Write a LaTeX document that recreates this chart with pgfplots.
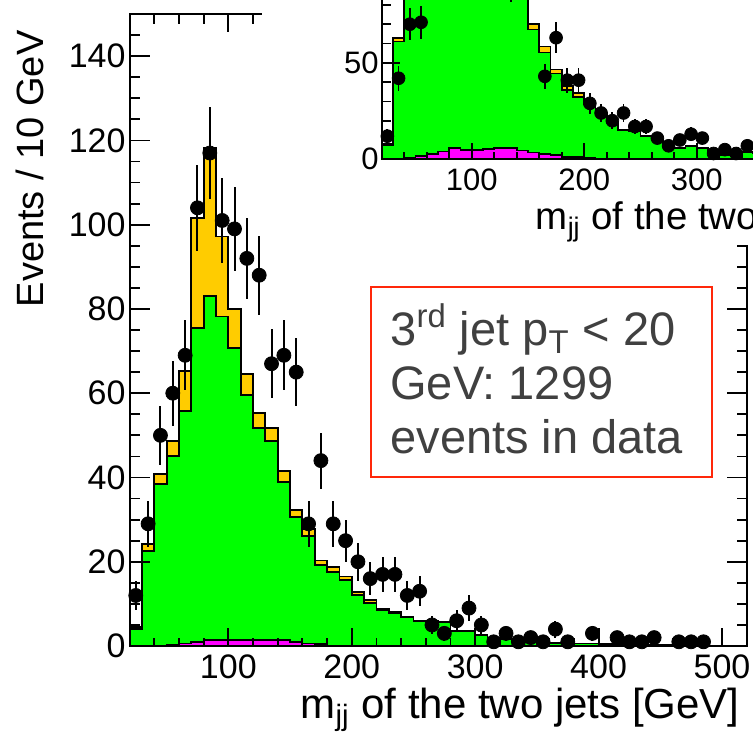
\documentclass[border=0pt]{standalone}
\usepackage{pgfplots}
\usepackage{pgfplotstable}
\usepackage{fontspec}
\setmainfont{Liberation Sans}
\pgfplotsset{compat=1.18}
\definecolor{hgreen}{RGB}{0,255,0}
\definecolor{horange}{RGB}{255,204,0}
\definecolor{hmag}{RGB}{255,0,255}
\definecolor{txtgray}{RGB}{64,64,64}
\definecolor{boxred}{RGB}{255,40,10}

\pgfplotstableread{
x T G M
20 4.5 4.0 0
30 24.2 22.6 0
40 40.8 38.5 0.1
50 48.7 45.1 0.3
60 65.2 55.7 0.6
70 101.6 75.5 1.0
80 118.2 83.1 1.5
90 97.2 78.2 1.4
100 80.0 70.7 1.4
110 64.6 59.6 1.5
120 55.3 51.7 1.5
130 51.7 48.6 1.5
140 41.6 38.9 1.5
150 32.3 30.7 1.0
160 27.7 26.1 0.6
170 20.3 19.2 0.5
180 18.8 17.6 0.1
190 16.5 15.7 0
200 12.9 12.1 0
210 10.9 10.3 0
220 8.9 8.6 0
230 8.1 7.9 0
240 7.0 6.8 0
250 6.0 5.9 0
260 6.0 5.9 0
270 5.8 5.7 0
280 3.6 3.5 0
290 3.6 3.5 0
300 2.7 2.6 0
310 2.0 2.0 0
320 1.6 1.6 0
330 1.4 1.4 0
340 1.0 1.0 0
350 0.8 0.8 0
360 0.8 0.8 0
370 0.8 0.8 0
380 0.6 0.6 0
390 0.6 0.6 0
400 0.4 0.4 0
410 0.4 0.4 0
420 0.3 0.3 0
430 0.2 0.2 0
440 0.2 0.2 0
450 0.3 0.3 0
460 0.2 0.2 0
470 0.1 0.1 0
480 0.1 0.1 0
490 0.1 0.1 0
500 0.1 0.1 0
510 0.1 0.1 0
520 0.1 0.1 0
}\mainhist

\pgfplotstableread{
x y e
25 12 3.46
35 29 5.39
45 50 7.07
55 60 7.75
65 69 8.31
75 104 10.20
85 117 10.82
95 101 10.05
105 99 9.95
115 92 9.59
125 88 9.38
135 67 8.19
145 69 8.31
155 65 8.06
165 29 5.39
175 44 6.63
185 29 5.39
195 25 5.00
205 20 4.47
215 16 4.00
225 17 4.12
235 17 4.12
245 12 3.46
255 13 3.61
265 5 2.24
275 3 1.73
285 6 2.45
295 9 3.00
305 5 2.24
315 1 1.00
325 3 1.73
335 1 1.00
345 2 1.41
355 1 1.00
365 4 2.00
375 1 1.00
395 3 1.73
415 2 1.41
425 1 1.00
435 1 1.00
445 2 1.41
465 1 1.00
475 1 1.00
485 1 1.00
}\maindata

\pgfplotstableread{
x T G M
20 7.9 7.4 0
30 63.0 61.0 0.3
40 94 88 0.8
50 112 104 1.6
60 150 128 2.9
70 234 174 4.0
80 272 191 6.0
90 224 180 4.8
100 184 163 4.8
110 149 137 5.5
120 127 119 5.7
130 119 112 5.7
140 96 90 4.6
150 70.1 67.3 3.6
160 58.4 55.4 2.9
170 46.6 44.4 2.2
180 37.9 35.9 1.3
190 34.2 32.4 1.3
200 29.0 28.5 1.0
210 24.3 24.0 0.3
220 19.5 19.3 0
230 15.2 15.0 0
240 14.8 14.6 0
250 12.1 12.0 0
260 10.0 9.9 0
270 7.1 7.0 0
280 5.7 5.6 0
290 6.9 6.8 0
300 5.7 5.6 0
310 4.5 4.4 0
320 2.2 2.2 0
330 2.2 2.2 0
340 3.9 3.8 0
350 3.0 3.0 0
360 2.5 2.5 0
370 2.5 2.5 0
}\insethist

\pgfplotstableread{
x y e
25 12 3.46
35 42 6.48
45 70 8.37
55 71 8.43
65 110 10.49
75 180 13.42
85 200 14.14
95 190 13.78
105 170 13.04
115 150 12.25
125 120 10.95
135 91 9.54
145 110 10.49
155 100 10.00
165 43 6.56
175 63 7.94
185 41 6.40
195 41 6.40
205 29 5.39
215 24 4.90
225 20 4.47
235 24 4.90
245 17 4.12
255 17 4.12
265 11 3.32
275 7 2.65
285 10 3.16
295 13 3.61
305 11 3.32
315 3 1.73
325 5 2.24
335 3 1.73
345 7 2.65
}\insetdata

\pgfplotsset{
  rootstyle/.style={
    scale only axis, anchor=south west,
    xmin=20, xmax=520, ymin=0,
    xtick={100,200,...,500},
    tick align=inside, major tick length=0pt, minor tick length=0pt,
    axis line style={black, line width=0.9pt},
    axis on top,
    /pgf/number format/assume math mode=true,
    /pgf/number format/1000 sep={},
  },
}
\tikzset{tk/.style={draw=black, line width=0.9pt}}

\begin{document}
\begin{tikzpicture}

\begin{axis}[rootstyle,
  at={(64.8pt,45pt)}, width=308.55pt, height=316pt,
  ymax=150,
  ytick={0,20,...,140},
  ticklabel style={font=\fontsize{17}{17}\selectfont},
  xticklabel style={yshift=-1pt},
  yticklabel style={xshift=1.5pt},
  xlabel={m\textsubscript{jj} of the two jets [GeV]},
  ylabel={Events / 10 GeV},
  every axis x label/.style={at={(axis description cs:1,-0.114)}, anchor=base east, font=\fontsize{21}{21}\selectfont},
  every axis y label/.style={at={(axis description cs:-0.14,0.985)}, anchor=base east, rotate=90, font=\fontsize{19}{19}\selectfont},
]
\addplot[const plot mark left, fill=horange, draw=black, line width=0.9pt] table[x=x,y=T]{\mainhist} \closedcycle;
\addplot[const plot mark left, fill=hgreen, draw=black, line width=0.9pt] table[x=x,y=G]{\mainhist} \closedcycle;
\addplot[const plot mark left, fill=hmag, draw=black, line width=0.9pt] table[x=x,y=M]{\mainhist} \closedcycle;
\addplot[only marks, mark=*, mark size=3.5pt, black,
  error bars/.cd, y dir=both, y explicit,
  error bar style={line width=1pt, black}, error mark=none]
  table[x=x, y=y, y error=e]{\maindata};
% axis ticks (frame decoration)
\pgfplotsinvokeforeach{100,200,300,400,500}{
  \draw[tk] (axis cs:#1,0) -- ([yshift=9pt]axis cs:#1,0);
  \draw[tk] (axis cs:#1,150) -- ([yshift=-9pt]axis cs:#1,150);}
\pgfplotsinvokeforeach{40,60,80,120,140,160,180,220,240,260,280,320,340,360,380,420,440,460,480}{
  \draw[tk] (axis cs:#1,0) -- ([yshift=4.2pt]axis cs:#1,0);
  \draw[tk] (axis cs:#1,150) -- ([yshift=-4.8pt]axis cs:#1,150);}
\pgfplotsinvokeforeach{20,40,60,80,100,120,140}{
  \draw[tk] (axis cs:20,#1) -- ([xshift=10pt]axis cs:20,#1);
  \draw[tk] (axis cs:520,#1) -- ([xshift=-10pt]axis cs:520,#1);}
\pgfplotsinvokeforeach{5,10,15,25,30,35,45,50,55,65,70,75,85,90,95,105,110,115,125,130,135,145}{
  \draw[tk] (axis cs:20,#1) -- ([xshift=5pt]axis cs:20,#1);
  \draw[tk] (axis cs:520,#1) -- ([xshift=-5pt]axis cs:520,#1);}
\draw[boxred, line width=1pt, fill=white] (axis cs:215.6,40.1) rectangle (axis cs:492,85.3);
\node[anchor=base west, inner sep=0pt, text=txtgray, font=\fontsize{23.5}{23.5}\selectfont] at (axis cs:231,71.3) {3\textsuperscript{rd} jet p\textsubscript{T} < 20};
\node[anchor=base west, inner sep=0pt, text=txtgray, font=\fontsize{23.5}{23.5}\selectfont] at (axis cs:231,58.5) {GeV: 1299};
\node[anchor=base west, inner sep=0pt, text=txtgray, font=\fontsize{23.5}{23.5}\selectfont] at (axis cs:231,45.7) {events in data};
\end{axis}

\fill[white] (131pt,245.5pt) rectangle (380pt,370pt);

\begin{axis}[rootstyle,
  at={(190.85pt,288.35pt)}, width=281.25pt, height=289.5pt,
  ymax=300,
  ytick={0,50,...,300},
  ticklabel style={font=\fontsize{15.5}{15.5}\selectfont},
  xticklabel style={yshift=-1pt},
  yticklabel style={xshift=2pt},
  xlabel={m\textsubscript{jj} of the two jets [GeV]},
  every axis x label/.style={at={(axis description cs:1,-0.122)}, anchor=base east, font=\fontsize{19.2}{19.2}\selectfont},
]
\addplot[const plot mark left, fill=horange, draw=black, line width=0.85pt] table[x=x,y=T]{\insethist} \closedcycle;
\addplot[const plot mark left, fill=hgreen, draw=black, line width=0.85pt] table[x=x,y=G]{\insethist} \closedcycle;
\addplot[const plot mark left, fill=hmag, draw=black, line width=0.85pt] table[x=x,y=M]{\insethist} \closedcycle;
\addplot[only marks, mark=*, mark size=3.2pt, black,
  error bars/.cd, y dir=both, y explicit,
  error bar style={line width=0.9pt, black}, error mark=none]
  table[x=x, y=y, y error=e]{\insetdata};
\pgfplotsinvokeforeach{100,200,300,400,500}{
  \draw[tk] (axis cs:#1,0) -- ([yshift=8.2pt]axis cs:#1,0);}
\pgfplotsinvokeforeach{40,60,80,120,140,160,180,220,240,260,280,320,340,360,380,420,440,460,480}{
  \draw[tk] (axis cs:#1,0) -- ([yshift=3.9pt]axis cs:#1,0);}
\pgfplotsinvokeforeach{50,100,150,200,250}{
  \draw[tk] (axis cs:20,#1) -- ([xshift=9pt]axis cs:20,#1);}
\pgfplotsinvokeforeach{10,20,30,40,60,70,80,90,110,120,130,140,160,170,180,190,210,220,230,240,260,270,280,290}{
  \draw[tk] (axis cs:20,#1) -- ([xshift=4.5pt]axis cs:20,#1);}
\end{axis}

\pgfresetboundingbox
\path[use as bounding box] (0,0) rectangle (376.5pt,368pt);
\end{tikzpicture}
\end{document}
